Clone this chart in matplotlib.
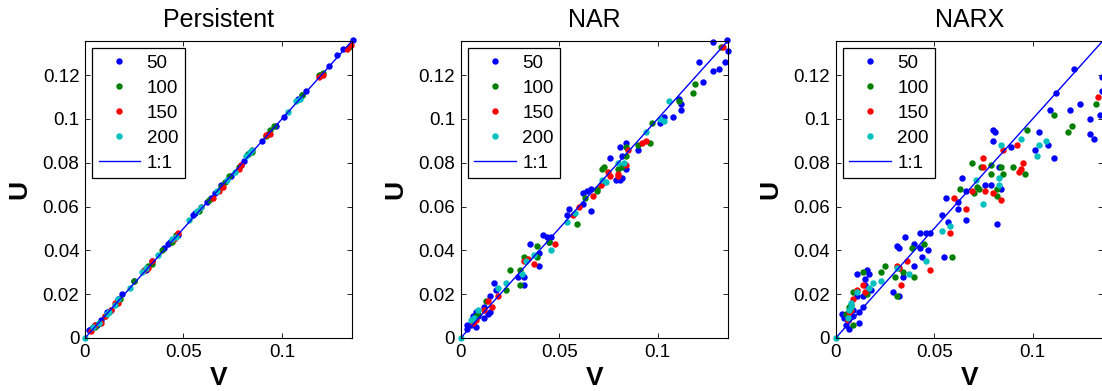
#!/usr/bin/env python3
"""
Scatter of U against V for three forecast models (Persistent, NAR, NARX),
one colour per horizon, with the 1:1 line.
"""

import matplotlib
matplotlib.use('Agg')
import matplotlib.pyplot as plt

OUTPUT_PATH = 'out.png'

TITLES = ['Persistent', 'NAR', 'NARX']
SERIES = ['50', '100', '150', '200']
COLORS = ['#0000ff', '#008000', '#ff0000', '#00bfbf']
LIMIT = 0.1356
X_TICKS = [0, 0.05, 0.1]
X_TICK_LABELS = ['0', '0.05', '0.1']
Y_TICKS = [0, 0.02, 0.04, 0.06, 0.08, 0.1, 0.12]
Y_TICK_LABELS = ['0', '0.02', '0.04', '0.06', '0.08', '0.1', '0.12']

# --- Persistent ---
pers_x_50 = [0.136, 0.131, 0.128, 0.124, 0.112, 0.108, 0.101, 0.090, 0.083, 0.079, 0.069,
             0.064, 0.062, 0.055, 0.043, 0.040, 0.034, 0.025, 0.019, 0.011, 0.008, 0.003,
             0.002, 0.120, 0.110, 0.097, 0.093, 0.081, 0.074, 0.066, 0.056, 0.047, 0.042,
             0.031, 0.017, 0.013, 0.005, 0.004, 0.006]
pers_y_50 = [0.136, 0.132, 0.129, 0.124, 0.113, 0.109, 0.101, 0.090, 0.084, 0.079, 0.070,
             0.064, 0.062, 0.056, 0.044, 0.041, 0.035, 0.026, 0.020, 0.012, 0.008, 0.004,
             0.0035, 0.120, 0.111, 0.097, 0.093, 0.081, 0.074, 0.066, 0.057, 0.047, 0.043,
             0.031, 0.018, 0.013, 0.006, 0.005, 0.006]
pers_x_100 = [0.134, 0.119, 0.110, 0.096, 0.092, 0.083, 0.073, 0.069, 0.063, 0.046, 0.039,
              0.032, 0.025, 0.016, 0.012, 0.007, 0.121, 0.094, 0.085, 0.078, 0.071, 0.058,
              0.044, 0.034, 0.018, 0.010, 0.005]
pers_y_100 = [0.133, 0.120, 0.111, 0.097, 0.092, 0.084, 0.074, 0.069, 0.063, 0.047, 0.040,
              0.033, 0.026, 0.016, 0.012, 0.007, 0.121, 0.095, 0.085, 0.078, 0.071, 0.058,
              0.044, 0.034, 0.018, 0.010, 0.005]
pers_x_150 = [0.135, 0.119, 0.092, 0.085, 0.078, 0.068, 0.059, 0.047, 0.034, 0.030, 0.015,
              0.013, 0.008, 0.005, 0.133, 0.121, 0.094, 0.079, 0.070, 0.065, 0.045, 0.032,
              0.017, 0.010, 0.003]
pers_y_150 = [0.134, 0.119, 0.0925, 0.086, 0.077, 0.067, 0.060, 0.048, 0.035, 0.031, 0.016,
              0.013, 0.007, 0.006, 0.132, 0.120, 0.093, 0.079, 0.069, 0.064, 0.045, 0.032,
              0.016, 0.010, 0.003]
pers_x_200 = [0.0, 0.107, 0.103, 0.084, 0.082, 0.072, 0.059, 0.053, 0.046, 0.037, 0.031,
              0.023, 0.015, 0.011, 0.004, 0.109, 0.085, 0.076, 0.067, 0.057, 0.044, 0.029,
              0.017, 0.012, 0.007]
pers_y_200 = [0.0, 0.108, 0.103, 0.085, 0.083, 0.072, 0.060, 0.054, 0.046, 0.038, 0.032,
              0.023, 0.015, 0.011, 0.005, 0.109, 0.086, 0.076, 0.067, 0.058, 0.045, 0.030,
              0.018, 0.012, 0.007]

# --- NAR ---
nar_x_50 = [0.135, 0.128, 0.136, 0.121, 0.134, 0.128, 0.131, 0.123, 0.111, 0.112, 0.112,
            0.108, 0.103, 0.101, 0.090, 0.084, 0.081, 0.082, 0.076, 0.084, 0.079, 0.081,
            0.082, 0.073, 0.066, 0.066, 0.064, 0.062, 0.062, 0.055, 0.054, 0.042, 0.044,
            0.046, 0.045, 0.035, 0.040, 0.040, 0.032, 0.032, 0.029, 0.017, 0.018, 0.015,
            0.014, 0.015, 0.012, 0.012, 0.008, 0.005, 0.003, 0.006, 0.008, 0.006, 0.003, 0.009]
nar_y_50 = [0.136, 0.135, 0.131, 0.126, 0.126, 0.122, 0.123, 0.117, 0.109, 0.107, 0.104,
            0.101, 0.101, 0.098, 0.086, 0.089, 0.087, 0.083, 0.082, 0.077, 0.072, 0.072,
            0.073, 0.071, 0.058, 0.068, 0.067, 0.066, 0.061, 0.059, 0.056, 0.047, 0.046,
            0.046, 0.044, 0.043, 0.039, 0.033, 0.024, 0.028, 0.028, 0.025, 0.022, 0.019,
            0.011, 0.012, 0.014, 0.009, 0.012, 0.006, 0.004, 0.007, 0.005, 0.010, 0.006, 0.010]
nar_x_100 = [0.132, 0.119, 0.118, 0.111, 0.097, 0.096, 0.090, 0.084, 0.084, 0.082, 0.073,
             0.072, 0.069, 0.069, 0.063, 0.059, 0.039, 0.039, 0.032, 0.030, 0.025, 0.030,
             0.023, 0.013, 0.009, 0.008, 0.006, 0.045, 0.033, 0.080]
nar_y_100 = [0.133, 0.116, 0.112, 0.108, 0.098, 0.089, 0.088, 0.087, 0.083, 0.078, 0.078,
             0.077, 0.068, 0.067, 0.064, 0.052, 0.042, 0.037, 0.037, 0.031, 0.031, 0.024,
             0.022, 0.017, 0.011, 0.010, 0.008, 0.044, 0.036, 0.077]
nar_x_150 = [0.133, 0.094, 0.092, 0.085, 0.084, 0.080, 0.080, 0.075, 0.076, 0.067, 0.060,
             0.057, 0.048, 0.037, 0.034, 0.032, 0.019, 0.016, 0.014, 0.012, 0.006, 0.008, 0.071]
nar_y_150 = [0.133, 0.090, 0.089, 0.086, 0.079, 0.075, 0.074, 0.076, 0.074, 0.065, 0.060,
             0.056, 0.043, 0.034, 0.036, 0.035, 0.019, 0.014, 0.017, 0.013, 0.007, 0.008, 0.070]
nar_x_200 = [0.0, 0.106, 0.103, 0.101, 0.094, 0.083, 0.074, 0.072, 0.058, 0.054, 0.046,
             0.037, 0.033, 0.031, 0.023, 0.019, 0.009, 0.007, 0.005, 0.080]
nar_y_200 = [0.0, 0.108, 0.099, 0.100, 0.094, 0.080, 0.071, 0.072, 0.057, 0.053, 0.040,
             0.038, 0.035, 0.029, 0.025, 0.023, 0.013, 0.009, 0.008, 0.080]

# --- NARX ---
narx_x_50 = [0.121, 0.112, 0.135, 0.135, 0.109, 0.124, 0.119, 0.129, 0.134, 0.129, 0.131,
             0.108, 0.103, 0.101, 0.111, 0.089, 0.080, 0.081, 0.080, 0.083, 0.084, 0.082,
             0.076, 0.079, 0.064, 0.066, 0.062, 0.062, 0.066, 0.056, 0.054, 0.057, 0.055,
             0.043, 0.046, 0.048, 0.035, 0.040, 0.043, 0.047, 0.044, 0.040, 0.031, 0.032,
             0.034, 0.029, 0.032, 0.016, 0.011, 0.017, 0.015, 0.015, 0.018, 0.014, 0.011,
             0.014, 0.012, 0.012, 0.009, 0.003, 0.004, 0.006, 0.005, 0.007, 0.009]
narx_y_50 = [0.123, 0.112, 0.119, 0.113, 0.104, 0.107, 0.104, 0.100, 0.102, 0.093, 0.091,
             0.088, 0.094, 0.086, 0.082, 0.087, 0.095, 0.094, 0.090, 0.078, 0.068, 0.052,
             0.070, 0.070, 0.073, 0.067, 0.062, 0.059, 0.054, 0.064, 0.056, 0.053, 0.037,
             0.048, 0.048, 0.048, 0.046, 0.043, 0.041, 0.040, 0.037, 0.033, 0.042, 0.041,
             0.028, 0.021, 0.019, 0.031, 0.029, 0.029, 0.027, 0.024, 0.022, 0.019, 0.019,
             0.014, 0.012, 0.007, 0.010, 0.011, 0.009, 0.008, 0.006, 0.004, 0.013]
narx_x_100 = [0.132, 0.111, 0.120, 0.118, 0.097, 0.069, 0.074, 0.079, 0.084, 0.079, 0.085,
              0.090, 0.096, 0.082, 0.082, 0.072, 0.073, 0.070, 0.063, 0.059, 0.045, 0.039,
              0.040, 0.034, 0.030, 0.031, 0.025, 0.023, 0.014, 0.016, 0.009, 0.008, 0.005,
              0.007, 0.009, 0.032]
narx_y_100 = [0.107, 0.102, 0.097, 0.094, 0.095, 0.080, 0.078, 0.079, 0.078, 0.075, 0.075,
              0.078, 0.075, 0.068, 0.065, 0.069, 0.068, 0.066, 0.068, 0.037, 0.043, 0.041,
              0.028, 0.030, 0.028, 0.019, 0.033, 0.030, 0.030, 0.020, 0.021, 0.015, 0.011,
              0.014, 0.006, 0.032]
narx_x_150 = [0.133, 0.085, 0.092, 0.095, 0.093, 0.094, 0.075, 0.075, 0.076, 0.080, 0.084,
              0.069, 0.066, 0.060, 0.058, 0.031, 0.032, 0.036, 0.033, 0.048, 0.014, 0.015,
              0.011, 0.009, 0.008, 0.007, 0.006]
narx_y_150 = [0.110, 0.086, 0.088, 0.080, 0.076, 0.077, 0.082, 0.078, 0.067, 0.066, 0.063,
              0.067, 0.059, 0.064, 0.048, 0.033, 0.032, 0.035, 0.024, 0.031, 0.024, 0.021,
              0.022, 0.018, 0.013, 0.012, 0.008]
narx_x_200 = [0.0, 0.084, 0.094, 0.107, 0.103, 0.102, 0.083, 0.083, 0.071, 0.075, 0.058,
              0.054, 0.046, 0.037, 0.031, 0.023, 0.019, 0.017, 0.011, 0.008, 0.008, 0.007, 0.006]
narx_y_200 = [0.0, 0.088, 0.091, 0.090, 0.088, 0.083, 0.073, 0.070, 0.072, 0.061, 0.051,
              0.049, 0.035, 0.029, 0.032, 0.026, 0.025, 0.023, 0.021, 0.016, 0.014, 0.013, 0.009]

PANELS = [
    [(pers_x_50, pers_y_50), (pers_x_100, pers_y_100),
     (pers_x_150, pers_y_150), (pers_x_200, pers_y_200)],
    [(nar_x_50, nar_y_50), (nar_x_100, nar_y_100),
     (nar_x_150, nar_y_150), (nar_x_200, nar_y_200)],
    [(narx_x_50, narx_y_50), (narx_x_100, narx_y_100),
     (narx_x_150, narx_y_150), (narx_x_200, narx_y_200)],
]

AX_LEFTS = [85 / 1102, 460.7 / 1102, 835.7 / 1102]


def main():
    plt.rcParams['font.family'] = ['Liberation Sans', 'DejaVu Sans']

    fig = plt.figure(figsize=(11.02, 3.91), dpi=100)

    for left, title, panel in zip(AX_LEFTS, TITLES, PANELS):
        ax = fig.add_axes([left, 53 / 391, 267 / 1102, 297 / 391])

        for (xs, ys), name, color in zip(panel, SERIES, COLORS):
            ax.plot(xs, ys, 'o', color=color, markersize=4.6,
                    markeredgewidth=0, label=name, clip_on=False)
        ax.plot([0, LIMIT], [0, LIMIT], '-', color='#0000ff', linewidth=1.0, label='1:1')

        ax.set_xlim(0, LIMIT)
        ax.set_ylim(0, LIMIT)
        ax.set_xticks(X_TICKS)
        ax.set_xticklabels(X_TICK_LABELS)
        ax.set_yticks(Y_TICKS)
        ax.set_yticklabels(Y_TICK_LABELS)
        ax.tick_params(direction='in', top=True, right=True, length=3.5, width=0.6,
                       labelsize=13.5, pad=4, colors='black')
        for sp in ax.spines.values():
            sp.set_linewidth(0.8)

        ax.set_title(title, fontsize=18, pad=10)
        ax.set_xlabel('V', fontsize=19, fontweight='bold', labelpad=4)
        ax.set_ylabel('U', fontsize=19, fontweight='bold', labelpad=8)

        leg = ax.legend(loc='upper left', fontsize=13.5, fancybox=False, framealpha=1,
                        edgecolor='black', numpoints=1, handlelength=2.2,
                        handletextpad=0.35, borderpad=0.35, labelspacing=0.42,
                        borderaxespad=0.38)
        leg.get_frame().set_linewidth(0.9)

    fig.savefig(OUTPUT_PATH, dpi=100, facecolor='white')
    print(f'Saved: {OUTPUT_PATH}')


if __name__ == '__main__':
    main()
